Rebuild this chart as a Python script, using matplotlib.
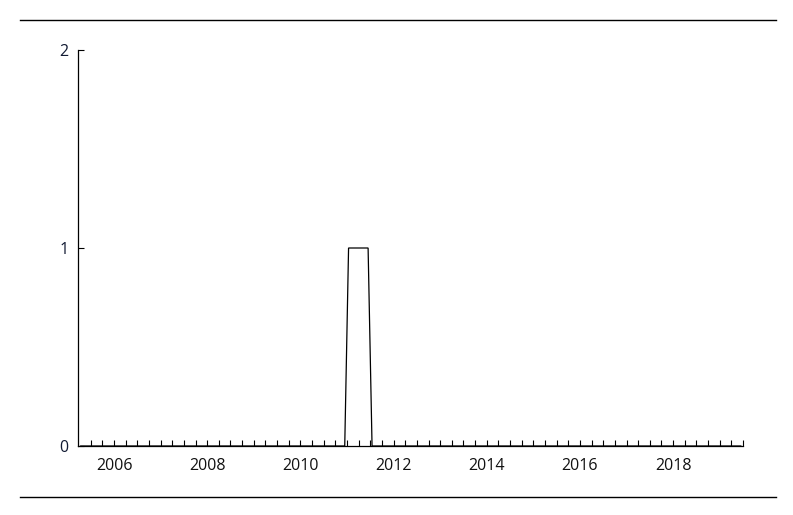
import matplotlib
matplotlib.use("Agg")
import matplotlib.pyplot as plt
import numpy as np
import pandas as pd
from matplotlib.lines import Line2D

# monthly counts (mid-month points); only the months where the line bends are listed,
# every month in between lies on the straight segments drawn here
months = ["2005-10-15", "2011-06-15", "2011-07-15", "2011-12-15", "2012-01-15", "2019-12-15"]
counts = [0, 0, 1, 1, 0, 0]

year_labels = ["2006", "2008", "2010", "2012", "2014", "2016", "2018"]
y_ticks = [0, 1, 2]


def decimal_year(ts):
    start = pd.Timestamp(year=ts.year, month=1, day=1)
    end = pd.Timestamp(year=ts.year + 1, month=1, day=1)
    return ts.year + (ts - start) / (end - start)


def main():
    plt.rcParams["font.family"] = ["Open Sans", "DejaVu Sans"]

    x = np.array([decimal_year(pd.Timestamp(m)) for m in months])
    y = np.array(counts, dtype=float)

    fig = plt.figure(figsize=(7.93, 5.15), dpi=100)
    ax = fig.add_axes([78 / 793, (515 - 446) / 515, (743 - 78) / 793, (446 - 50) / 515])

    ax.plot(x, y, color="black", linewidth=0.9, solid_joinstyle="miter", clip_on=False)

    ax.set_xlim(2005.727, 2020.0)
    ax.set_ylim(0, 2)

    # quarterly ticks, year labels sit under the middle of each even year
    quarters = np.arange(2006.0, 2020.001, 0.25)
    label_at = {int(l) + 0.5: l for l in year_labels}
    ax.set_xticks(quarters)
    ax.set_xticklabels([label_at.get(round(q, 2), "") for q in quarters])
    ax.tick_params(axis="x", direction="in", length=4.5, width=0.8, color="black",
                   pad=9, labelsize=11.5, labelcolor="#111111")

    ax.set_yticks(y_ticks)
    ax.set_yticklabels([str(v) for v in y_ticks])
    ax.tick_params(axis="y", direction="in", length=4.5, width=0.8, pad=7,
                   labelsize=11.5, labelcolor="#111a33")

    for side in ["top", "right"]:
        ax.spines[side].set_visible(False)
    for side in ["left", "bottom"]:
        ax.spines[side].set_linewidth(0.9)

    # horizontal rules above and below the chart
    fig.add_artist(Line2D([20 / 793, 776 / 793], [1 - 20 / 515, 1 - 20 / 515], color="black", linewidth=1))
    fig.add_artist(Line2D([20 / 793, 776 / 793], [1 - 497 / 515, 1 - 497 / 515], color="black", linewidth=1))

    fig.savefig("out.png", dpi=100)
    plt.close(fig)


if __name__ == "__main__":
    main()
